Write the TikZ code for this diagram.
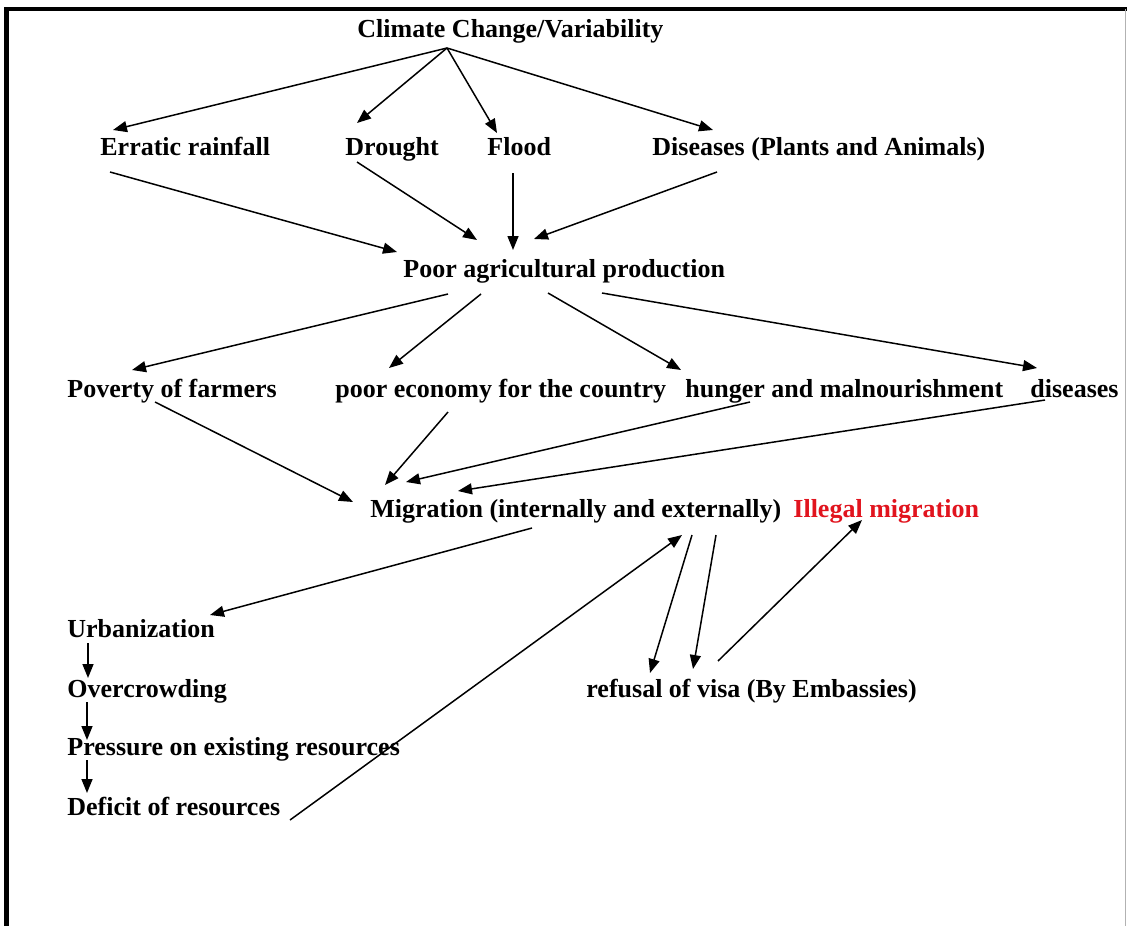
\documentclass[tikz,border=0pt]{standalone}
\usepackage{fontspec}
\setmainfont{Liberation Serif}
\usetikzlibrary{arrows.meta,calc}
\definecolor{illred}{RGB}{225,20,30}

\begin{document}
\begin{tikzpicture}[x=0.5pt,y=-0.5pt,
    lbl/.style={anchor=base west, inner sep=0pt, font=\fontsize{13}{15}\selectfont\bfseries},
    arr/.style={-{Triangle[length=7pt,width=5.5pt]}, line width=0.75pt}]

    \useasboundingbox (0,0) rectangle (1127,926);

    % Frame
    \draw[line width=2pt] (5,9) -- (1127,9);
    \draw[line width=2.5pt] (6.5,7) -- (6.5,926);
    \draw[gray!60, line width=0.4pt] (1125.5,9) -- (1125.5,926);

    % Causes
    \node[lbl] (clim) at (357,37) {Climate Change/Variability};
    \node[lbl] (rain) at (100,155) {Erratic rainfall};
    \node[lbl] (drought) at (345,155) {Drought};
    \node[lbl] (flood) at (487,155) {Flood};
    \node[lbl] (disease) at (652,155) {Diseases (Plants and Animals)};

    % Climate to causes
    \draw[arr] ($(clim.base west)+(90,11)$) -- ($(rain.base west)+(13,-25)$);
    \draw[arr] ($(clim.base west)+(90,11)$) -- ($(drought.base west)+(12,-32)$);
    \draw[arr] ($(clim.base west)+(90,11)$) -- ($(flood.base west)+(10,-22)$);
    \draw[arr] ($(clim.base west)+(90,11)$) -- ($(disease.base west)+(61,-25)$);

    % Poor agricultural production
    \node[lbl] (agri) at (403,277) {Poor agricultural production};
    \draw[arr] ($(rain.base west)+(10,17)$) -- ($(agri.base west)+(-6,-25)$);
    \draw[arr] ($(drought.base west)+(12,7)$) -- ($(agri.base west)+(74,-37)$);
    \draw[arr] ($(flood.base west)+(26,18)$) -- ($(agri.base west)+(110,-27)$);
    \draw[arr] ($(disease.base west)+(65,17)$) -- ($(agri.base west)+(131,-38)$);

    % Effects
    \node[lbl] (poverty) at (67,397) {Poverty of farmers};
    \node[lbl] (economy) at (335,397) {poor economy for the country};
    \node[lbl] (hunger) at (685,397) {hunger and malnourishment};
    \node[lbl] (sick) at (1030,397) {diseases};
    \draw[arr] ($(agri.base west)+(45,17)$) -- ($(poverty.base west)+(65,-27)$);
    \draw[arr] ($(agri.base west)+(78,17)$) -- ($(economy.base west)+(54,-29)$);
    \draw[arr] ($(agri.base west)+(145,16)$) -- ($(hunger.base west)+(-4,-27)$);
    \draw[arr] ($(agri.base west)+(199,16)$) -- ($(sick.base west)+(7,-29)$);

    % Migration
    \node[lbl] (migr) at (370,517) {Migration (internally and externally)};
    \node[lbl, text=illred] (illegal) at (793,517) {Illegal migration};
    \draw[arr] ($(poverty.base west)+(88,5)$) -- ($(migr.base west)+(-17,-15)$);
    \draw[arr] ($(economy.base west)+(113,15)$) -- ($(migr.base west)+(15,-32)$);
    \draw[arr] ($(hunger.base west)+(65,5)$) -- ($(migr.base west)+(36,-35)$);
    \draw[arr] ($(sick.base west)+(15,3)$) -- ($(migr.base west)+(88,-26)$);

    % Urbanization chain
    \node[lbl] (urban) at (67,637) {Urbanization};
    \node[lbl] (crowd) at (67,697) {Overcrowding};
    \node[lbl] (pressure) at (67,755) {Pressure on existing resources};
    \node[lbl] (deficit) at (67,815) {Deficit of resources};
    \draw[arr] ($(migr.base west)+(162,11)$) -- ($(urban.base west)+(143,-22)$);
    \draw[arr] ($(urban.base west)+(21,6)$) -- ($(crowd.base west)+(21,-19)$);
    \draw[arr] ($(crowd.base west)+(20,5)$) -- ($(pressure.base west)+(20,-15)$);
    \draw[arr] ($(pressure.base west)+(20,5)$) -- ($(deficit.base west)+(20,-22)$);
    \draw[arr] ($(deficit.base west)+(223,5)$) -- ($(migr.base west)+(312,18)$);

    % Visa refusal
    \node[lbl] (visa) at (586,697) {refusal of visa (By Embassies)};
    \draw[arr] ($(migr.base west)+(322,18)$) -- ($(visa.base west)+(64,-24)$);
    \draw[arr] ($(migr.base west)+(346,18)$) -- ($(visa.base west)+(107,-28)$);
    \draw[arr] ($(visa.base west)+(132,-36)$) -- ($(illegal.base west)+(69,3)$);

\end{tikzpicture}
\end{document}
